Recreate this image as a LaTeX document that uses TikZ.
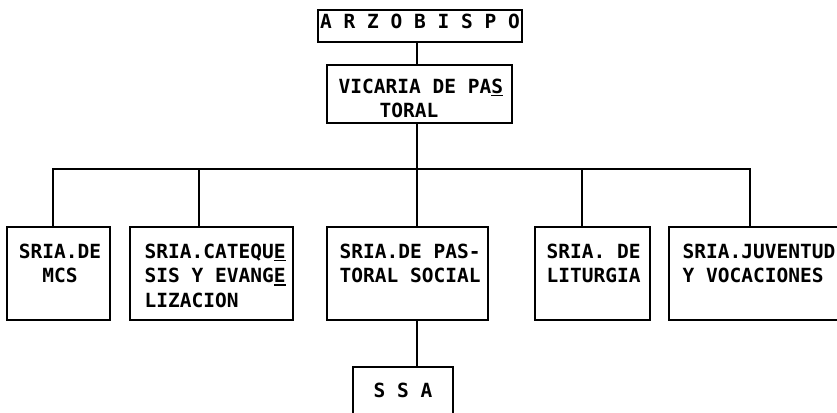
\documentclass[tikz,border=0pt]{standalone}
\usepackage{fontspec}
\setmonofont{DejaVu Sans Mono}
\newcommand{\undl}[1]{\setbox0\hbox{#1}\rlap{\raisebox{-3pt}{\rule{\wd0}{1.4pt}}}\box0}

\begin{document}
\begin{tikzpicture}[x=1pt, y=-1pt, line width=1.4pt,
    unit/.style={draw, inner sep=0pt, outer sep=0pt, anchor=north west},
    lbl/.style={inner sep=0pt, align=left, font=\ttfamily\bfseries\frenchspacing\fontsize{19.5}{24.5}\selectfont}]
        \useasboundingbox (0,0) rectangle (837,412);
        \clip (0,0) rectangle (837,412);

        % boxes
        \node[unit, minimum width=204pt, minimum height=32pt] (arz) at (318,10) {};
        \node[unit, minimum width=185pt, minimum height=58pt] (vic) at (327,65) {};
        \node[unit, minimum width=103pt, minimum height=93pt] (mcs) at (7,227) {};
        \node[unit, minimum width=163pt, minimum height=93pt] (cat) at (130,227) {};
        \node[unit, minimum width=161pt, minimum height=93pt] (pas) at (327,227) {};
        \node[unit, minimum width=115pt, minimum height=93pt] (lit) at (535,227) {};
        \node[unit, minimum width=180pt, minimum height=93pt] (juv) at (669,227) {};
        \node[unit, minimum width=100pt, minimum height=70pt] (ssa) at (353,367) {};

        % texts
        \node[lbl, anchor=north] (arz-t) at ([shift={(0,3)}]arz.north) {A R Z O B I S P O};
        \node[lbl, anchor=north west] (vic-t) at ([shift={(11,13)}]vic.north west) {VICARIA DE PA\undl{S}\\\hspace*{41pt}TORAL};
        \node[lbl, align=center, anchor=north] (mcs-t) at ([shift={(1.5,16)}]mcs.north) {SRIA.DE\\MCS};
        \node[lbl, anchor=north west] (cat-t) at ([shift={(14,16)}]cat.north west) {SRIA.CATEQU\undl{E}\\SIS Y EVANG\undl{E}\\LIZACION};
        \node[lbl, anchor=north west] (pas-t) at ([shift={(12,16)}]pas.north west) {SRIA.DE PAS-\\TORAL SOCIAL};
        \node[lbl, anchor=north west] (lit-t) at ([shift={(11,16)}]lit.north west) {SRIA. DE\\LITURGIA};
        \node[lbl, anchor=north west] (juv-t) at ([shift={(13,16)}]juv.north west) {SRIA.JUVENTUD\\Y VOCACIONES};
        \node[lbl, anchor=north] (ssa-t) at ([shift={(0,15)}]ssa.north) {S S A};

        % connectors
        \foreach \b/\x in {mcs/53, cat/199, pas/417, lit/582, juv/750}
            \coordinate (d\b) at (\x,169);

        \draw (mcs.north -| dmcs) -- (dmcs) -- (djuv) -- (juv.north -| djuv);
        \foreach \b in {cat, pas, lit}
            \draw (d\b) -- (\b.north -| d\b);

        \draw (arz.south -| dpas) -- (vic.north -| dpas);
        \draw (vic.south -| dpas) -- (dpas);
        \draw (pas.south -| dpas) -- (ssa.north -| dpas);
\end{tikzpicture}
\end{document}
